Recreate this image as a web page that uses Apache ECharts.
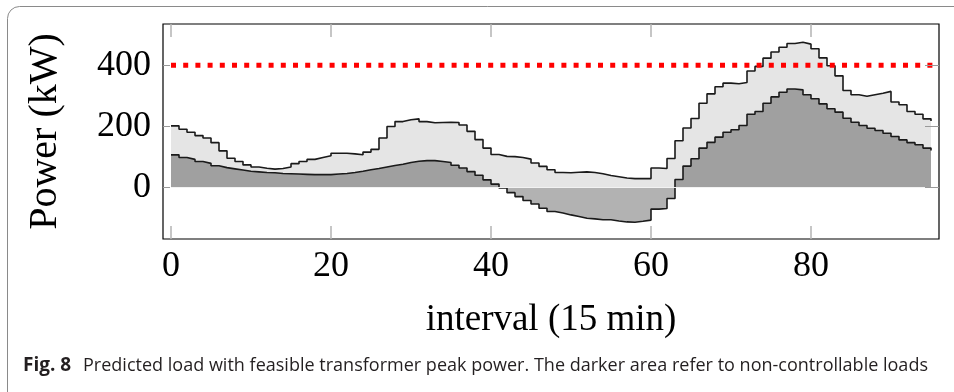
<!DOCTYPE html>
<html>
<head>
<meta charset="utf-8">
<script src="https://cdn.jsdelivr.net/npm/echarts@6/dist/echarts.min.js"></script>
<style>
  html, body { margin: 0; padding: 0; background: #fff; }
  #chart { width: 954px; height: 392px; }
</style>
</head>
<body>
<div id="chart"></div>
<script>
// predicted total load (kW), one value per 15 min interval
const totalLoad = [
  201, 190, 180, 169, 161, 146, 119, 95, 84, 73, 66, 62, 59,
  61, 66, 77, 84, 91, 97, 103, 111, 111, 109, 106, 115, 124,
  161, 199, 215, 221, 224, 215, 211, 212, 213, 212, 204, 183, 156, 128,
  107, 101, 100, 97, 92, 79, 68, 57, 48, 47, 49, 50,
  48, 44, 38, 34, 30, 28, 28, 28, 63, 61, 94, 152,
  194, 225, 275, 306, 329,
  341, 339, 343, 381, 396, 423, 443, 459, 471, 475, 469, 454,
  424, 398, 365, 317, 303, 298, 303, 308, 314, 279, 270, 248, 239, 224, 217
];
// non-controllable part (kW)
const nonControllable = [
  106, 97, 91, 84, 78, 70, 64, 60, 56, 52, 50, 48, 47,
  45, 44, 43, 42, 41, 41, 41, 43, 45, 48, 52, 57, 61, 66,
  71, 75, 81, 85, 87, 87, 84, 81, 72, 63, 51, 39, 24,
  10, -3, -18, -31, -44, -55, -69, -80, -85, -91, -96, -102,
  -104, -107, -107, -111, -114, -115, -112, -108, -72, -70, -37, 25,
  69, 93, 128, 147, 164,
  180, 188, 202, 239, 248, 275, 296, 311, 322, 319, 303, 290,
  273, 257, 246, 226, 213, 202, 193, 186, 177, 166, 155, 146, 139, 128, 120
];
const peakLimit = 400;
const xTicks = [0, 20, 40, 60, 80];
const yTicks = [0, 200, 400];

const captionBold = "Fig. 8";
const captionText = "Predicted load with feasible transformer peak power. The darker area refer to non-controllable loads";

const toPairs = (arr) => arr.map((v, i) => [i, v]);

// squeeze the caption a bit, the original uses a condensed sans
const ctx = document.createElement("canvas").getContext("2d");
ctx.font = "19px 'Open Sans'";
const capW = ctx.measureText(captionText).width;
const capScale = 845 / capW;

const chart = echarts.init(document.getElementById("chart"));
const serif = "'Liberation Serif', serif";
const tickStyleX = { color: "#b4b4b4", width: 1.5 };
const tickStyleY = { color: "#999", width: 1 };

chart.setOption({
  animation: false,
  grid: {
    left: 163, right: 15, top: 24, bottom: 153,
    show: true, borderColor: "#000", borderWidth: 1.2, backgroundColor: "transparent"
  },
  xAxis: [
    {
      type: "value", min: -1, max: 96,
      axisLine: { show: false, onZero: false },
      splitLine: { show: false },
      axisTick: { inside: true, length: 13, customValues: xTicks, lineStyle: tickStyleX },
      axisLabel: { customValues: xTicks, fontFamily: serif, fontSize: 36, color: "#000", margin: 10 },
      name: "interval (15 min)",
      nameLocation: "middle",
      nameGap: 63,
      nameTextStyle: { fontFamily: serif, fontSize: 37, color: "#000" },
      z: 5
    },
    {
      type: "value", min: -1, max: 96, position: "top",
      axisLine: { show: false, onZero: false },
      splitLine: { show: false },
      axisTick: { inside: true, length: 13, customValues: xTicks, lineStyle: tickStyleX },
      axisLabel: { show: false },
      z: 5
    }
  ],
  yAxis: [
    {
      type: "value", min: -170, max: 535,
      axisLine: { show: false, onZero: false },
      splitLine: { show: false },
      axisTick: { inside: true, length: 7, customValues: yTicks, lineStyle: tickStyleY },
      axisLabel: { customValues: yTicks, fontFamily: serif, fontSize: 36, color: "#000", margin: 12 },
      name: "Power (kW)",
      nameLocation: "middle",
      nameGap: 98,
      nameTextStyle: { fontFamily: serif, fontSize: 40, color: "#000" },
      z: 5
    },
    {
      type: "value", min: -170, max: 535, position: "right",
      axisLine: { show: false, onZero: false },
      splitLine: { show: false },
      axisTick: { inside: true, length: 14, customValues: yTicks, lineStyle: tickStyleY },
      axisLabel: { show: false },
      z: 5
    }
  ],
  series: [
    {
      name: "total",
      type: "line",
      step: "end",
      data: toPairs(totalLoad),
      symbol: "none",
      lineStyle: { color: "#1a1a1a", width: 1.6 },
      areaStyle: { color: "#e5e5e5", opacity: 1 }
    },
    {
      name: "non-controllable",
      type: "line",
      step: "end",
      data: toPairs(nonControllable),
      symbol: "none",
      lineStyle: { color: "#1a1a1a", width: 1.6 },
      areaStyle: { color: "rgba(0,0,0,0.3)", opacity: 1 },
      markLine: {
        silent: true,
        symbol: "none",
        label: { show: false },
        lineStyle: { color: "#f2f2f2", width: 1.2, type: "solid" },
        data: [[{ coord: [0, 0] }, { coord: [95, 0] }]]
      }
    },
    {
      name: "peak",
      type: "line",
      data: [[0, peakLimit], [96, peakLimit]],
      symbol: "none",
      lineStyle: { color: "#ff0000", width: 5, type: [5, 7.2], cap: "butt" },
      z: 4
    }
  ],
  graphic: [
    {
      type: "rect",
      shape: { x: 7.5, y: 6.5, width: 1000, height: 420, r: 12 },
      style: { fill: "none", stroke: "#8a8a8a", lineWidth: 1 },
      silent: true
    },
    {
      type: "text",
      x: 23, y: 366,
      style: {
        text: captionBold,
        font: "bold 19px 'Open Sans'",
        fill: "#231f20",
        verticalAlign: "middle"
      }
    },
    {
      type: "text",
      x: 83, y: 366,
      scaleX: capScale,
      style: {
        text: captionText,
        font: "19px 'Open Sans'",
        fill: "#231f20",
        verticalAlign: "middle"
      }
    }
  ]
});

window.addEventListener("resize", () => chart.resize());
</script>
</body>
</html>
